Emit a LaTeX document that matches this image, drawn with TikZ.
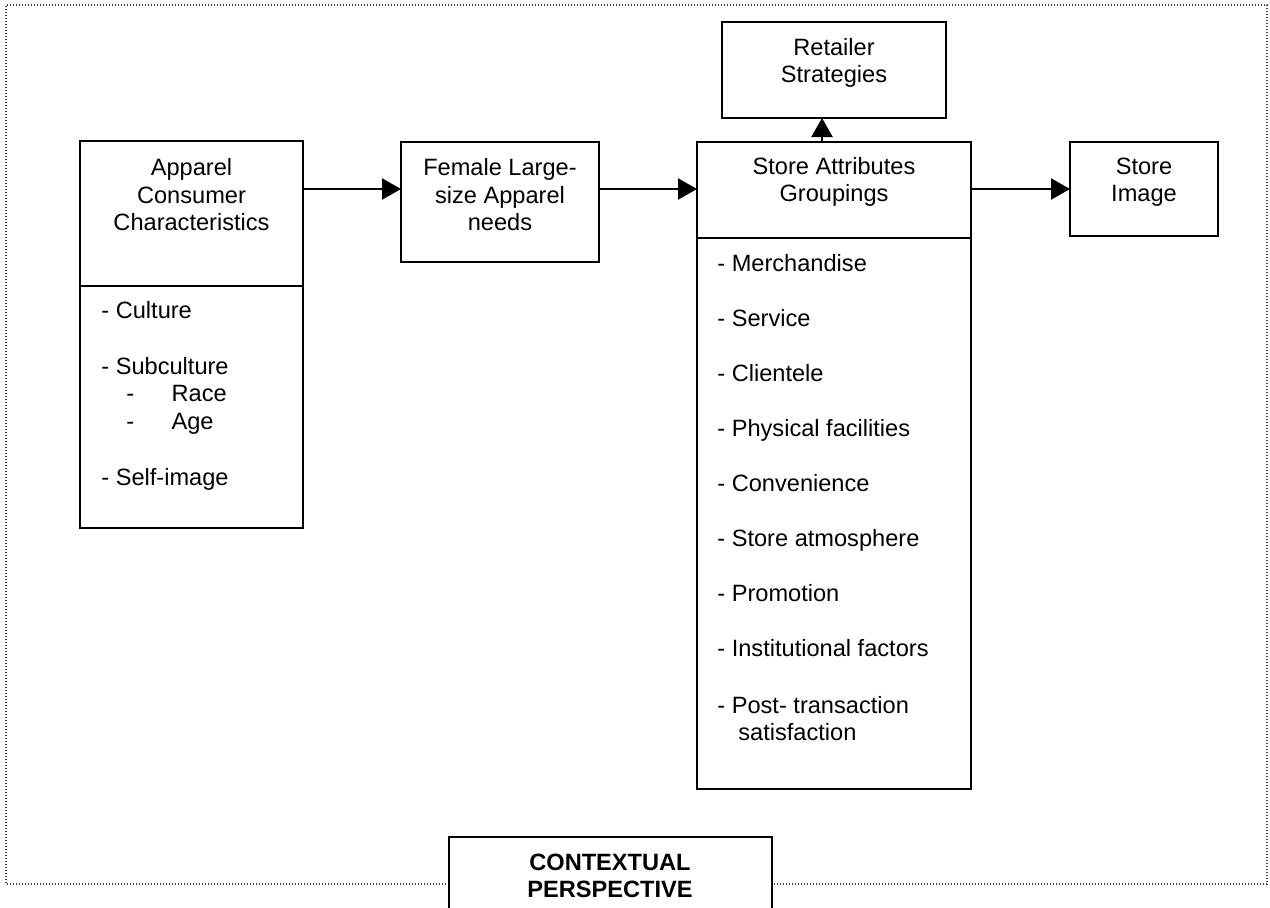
\documentclass[tikz,border=0pt]{standalone}
\usepackage{fontspec}
\setmainfont{Liberation Sans}
\usetikzlibrary{arrows.meta,fit}
\begin{document}
\begin{tikzpicture}[x=0.5pt,y=-0.5pt,
  box/.style={draw, line width=1.15pt, inner sep=0pt, outer sep=0pt},
  ttl/.style={align=center, font=\fontsize{11.8}{13.75}\selectfont, inner sep=0pt},
  item/.style={anchor=west, font=\fontsize{11.8}{13.75}\selectfont, inner sep=0pt, text height=8.5pt, text depth=2.5pt},
  arr/.style={line width=1.15pt, -{Triangle[length=9.5pt,width=10.5pt]}},
  frame/.style={line width=1pt, dash pattern=on 0.6pt off 0.9pt, black!75}]
\clip (0,0) rectangle (1270,907);
\fill[white] (0,0) rectangle (1270,907);
% dotted frame
\draw[frame] (449,884) -- (6,884) -- (6,5) -- (1267,5) -- (1267,884) -- (772,884);
% boxes
\node[box, fit={(80,141) (303,286)}] (apptop) {};
\node[box, fit={(80,286) (303,528)}] (applist) {};
\node[box, fit={(401,142) (599,262)}] (fem) {};
\node[box, fit={(697,142) (971,238)}] (sattop) {};
\node[box, fit={(697,238) (971,789)}] (satlist) {};
\node[box, fit={(722,22) (946,118)}] (ret) {};
\node[box, fit={(1070,142) (1218,236)}] (simg) {};
\node[box, fit={(449,837) (772,930)}] (ctx) {};
% titles
\node[ttl] (t1) at (191.5,195) {Apparel\\Consumer\\Characteristics};
\node[ttl] (t2) at (500,195) {Female Large-\\size Apparel\\needs};
\node[ttl] (t3) at (834,182) {Store Attributes\\Groupings};
\node[ttl] (t4) at (834,63) {Retailer\\Strategies};
\node[ttl] (t5) at (1144,182) {Store\\Image};
\node[ttl, font=\fontsize{11.8}{13.75}\selectfont\bfseries] (t6) at (610,876) {CONTEXTUAL\\PERSPECTIVE};
% left list
\node[item] (a1) at (101,312) {- Culture};
\node[item] (a2) at (101,368) {- Subculture};
\node[item] (a3) at (126,395) {\makebox[22.6pt][l]{-}Race};
\node[item] (a4) at (126,423) {\makebox[22.6pt][l]{-}Age};
\node[item] (a5) at (101,479) {- Self-image};
% right list
\node[item] (b1) at (717,265) {- Merchandise};
\node[item] (b2) at (717,320) {- Service};
\node[item] (b3) at (717,375) {- Clientele};
\node[item] (b4) at (717,430) {- Physical facilities};
\node[item] (b5) at (717,485) {- Convenience};
\node[item] (b6) at (717,540) {- Store atmosphere};
\node[item] (b7) at (717,595) {- Promotion};
\node[item] (b8) at (717,650) {- Institutional factors};
\node[item] (b9) at (717,707) {- Post- transaction};
\node[item] (b10) at (738,734) {satisfaction};
% connectors
\coordinate (ay) at (0,189);
\coordinate (ax) at (822,0);
\draw[arr] (apptop.east |- ay) -- (fem.west |- ay);
\draw[arr] (fem.east |- ay) -- (sattop.west |- ay);
\draw[arr] (sattop.east |- ay) -- (simg.west |- ay);
\draw[arr] (sattop.north -| ax) -- (ret.south -| ax);
\end{tikzpicture}
\end{document}
